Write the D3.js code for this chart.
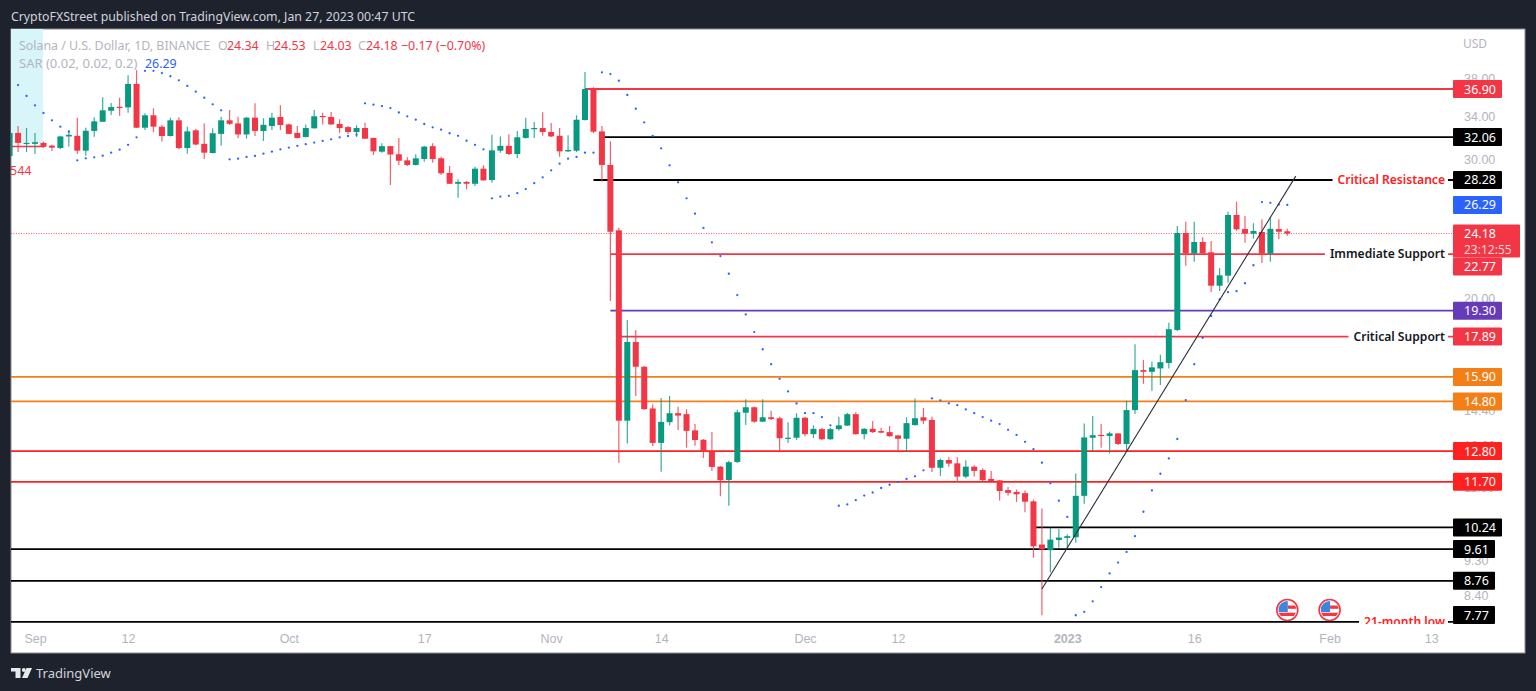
<!DOCTYPE html>
<html>
<head>
<meta charset="utf-8">
<script src="https://cdn.jsdelivr.net/npm/d3@7"></script>
<style>
  html, body { margin: 0; padding: 0; background: #1e222d; overflow: hidden; }
  svg { display: block; font-family: "Noto Sans", sans-serif; }
</style>
</head>
<body>
<div id="chart"></div>
<script>
// daily candles, Aug 29 2022 -> Jan 27 2023 (one row per month)
const firstDay = '2022-08-29';
const lastDay = '2023-01-27';

const opens = [
  30.34,32.45,31.43,
  31.43,31.52,31.27,31.05,32.12,32.18,30.81,32.64,33.53,34.63,35.03,34.97,37.45,32.95,34.17,33.05,32.16,33.67,31.05,32.70,31.43,30.60,32.36,33.67,33.37,32.31,33.93,32.64,33.11,34.00,
  33.27,32.45,32.07,32.89,34.10,34.00,33.31,33.01,32.54,32.92,31.98,30.72,31.22,30.49,29.95,29.55,30.07,31.22,30.13,28.87,27.97,28.12,27.97,29.23,28.28,30.81,31.25,30.51,31.98,32.83,32.92,
  32.54,32.18,30.75,30.81,33.70,36.90,32.60,29.55,24.41,13.99,17.61,16.38,14.50,13.11,13.93,14.30,14.26,13.60,13.23,12.78,12.23,11.76,12.40,14.32,14.55,13.95,14.13,14.09,13.27,13.31,
  14.11,13.45,13.65,13.25,13.65,13.79,14.26,13.45,13.66,13.57,13.53,13.40,13.27,13.81,14.13,14.02,12.19,12.47,12.35,11.88,12.23,12.11,11.80,11.75,11.42,11.36,11.32,11.05,9.74,9.58,9.87,
  9.93,9.95,11.23,13.31,13.42,13.38,13.48,13.07,14.43,16.22,16.14,16.30,16.56,18.24,24.22,22.82,23.59,22.89,20.76,21.38,25.53,24.50,24.17,24.29,22.80,24.50,24.34
];
const highs = [
  32.50,33.12,32.92,
  32.45,31.64,31.34,32.18,32.73,33.93,32.95,33.97,36.01,35.42,35.97,38.40,38.99,34.37,34.87,33.21,33.93,33.97,33.05,32.83,33.37,32.89,34.03,34.70,34.03,34.00,35.39,33.87,34.43,35.20,
  33.33,33.11,33.27,34.70,34.43,34.50,33.77,33.11,33.18,33.43,32.00,31.49,31.25,31.98,30.22,30.49,31.25,31.49,30.27,29.46,28.34,28.20,29.40,29.52,32.28,32.12,32.33,32.64,33.93,33.50,34.47,
  33.40,32.92,32.24,34.17,38.77,37.09,33.11,31.67,24.60,18.78,18.24,16.41,14.68,14.95,15.04,14.57,14.47,13.85,13.26,13.53,12.25,12.44,14.43,14.90,14.58,14.90,14.40,14.15,13.93,14.30,
  14.15,13.80,13.70,13.69,14.15,14.32,14.34,13.69,13.98,13.70,13.77,13.41,14.13,14.93,14.52,14.15,12.53,12.57,12.57,12.46,12.28,12.17,12.08,11.76,11.52,11.44,11.41,11.11,10.82,10.23,10.19,
  10.04,11.99,13.88,14.18,13.86,13.54,13.49,14.83,17.50,16.71,16.62,16.96,18.63,24.72,25.03,25.03,23.92,23.66,21.84,25.78,26.54,25.45,24.92,25.21,25.36,25.21,24.53
];
const lows = [
  30.20,30.69,30.69,
  30.51,31.05,30.78,30.96,31.18,30.51,30.36,32.10,33.50,34.20,34.13,34.43,32.92,32.73,32.52,31.64,32.12,30.93,30.54,31.31,30.07,30.55,31.27,33.21,31.95,31.91,32.16,31.70,32.73,32.73,
  32.33,31.93,32.02,32.87,33.27,33.22,32.47,32.36,32.07,31.88,30.42,30.63,27.87,29.55,29.46,29.50,29.83,29.74,28.70,27.95,26.85,27.52,27.78,28.20,28.06,30.63,30.42,30.13,31.93,31.98,32.18,
  32.07,30.27,30.69,30.69,33.65,32.42,28.14,19.85,12.37,13.09,15.04,14.44,12.99,12.05,13.79,13.61,12.93,13.00,12.54,12.08,11.22,10.91,12.36,13.81,13.91,13.94,14.02,12.78,13.11,13.22,
  13.37,13.30,13.22,13.23,13.58,13.77,13.43,13.25,13.50,13.49,13.35,12.80,12.78,13.79,13.86,12.04,11.91,12.23,11.69,11.82,11.88,11.69,11.71,11.08,11.24,11.03,10.70,9.37,7.92,8.98,9.65,
  9.65,9.79,10.97,12.80,12.93,12.72,13.03,12.81,14.27,15.58,15.27,15.53,16.30,18.19,22.01,22.27,22.78,20.38,20.44,20.94,24.38,23.54,23.82,22.18,22.27,23.78,24.03
];
const closes = [
  32.45,31.52,31.52,
  31.58,31.16,31.09,32.12,32.27,30.81,32.66,33.57,34.67,35.00,34.97,37.45,32.95,34.17,33.05,32.16,33.67,31.05,32.60,31.37,30.63,32.42,33.67,33.33,32.31,33.93,32.64,33.23,33.93,33.21,
  32.36,31.98,32.92,34.07,34.03,33.27,32.92,32.54,32.92,31.91,30.75,31.22,30.47,29.92,29.55,30.13,31.18,30.07,28.84,27.97,28.12,27.97,29.23,28.25,30.84,31.25,30.51,32.04,32.83,32.92,32.54,
  32.12,30.75,30.87,33.73,36.90,32.57,29.55,24.31,13.99,17.61,16.38,14.47,13.11,13.94,14.30,14.20,13.58,13.22,12.78,12.22,11.76,12.39,14.34,14.55,13.95,14.13,14.06,13.29,13.31,14.11,
  13.45,13.66,13.25,13.65,13.80,14.26,13.45,13.66,13.53,13.51,13.37,13.27,13.89,14.09,13.99,12.19,12.47,12.34,11.88,12.23,12.08,11.76,11.73,11.39,11.33,11.28,11.04,9.69,9.60,9.88,9.94,
  9.98,11.23,13.32,13.41,13.38,13.48,13.07,14.43,16.22,16.14,16.35,16.60,18.28,24.22,22.82,23.59,22.82,20.76,21.40,25.53,24.48,24.17,24.36,22.80,24.52,24.31,24.18
];
// parabolic SAR, null where no dot is plotted
const sarValues = [
  null,37.33,36.15,
  35.17,34.40,33.67,33.05,32.57,29.95,30.13,30.22,30.36,30.63,30.90,31.34,32.04,38.91,38.91,38.66,38.30,37.85,37.23,36.61,35.97,35.28,34.67,30.04,30.10,30.25,30.34,30.54,30.72,30.93,
  31.09,31.25,31.40,31.55,31.70,31.85,32.04,32.16,32.28,35.39,35.25,35.10,34.90,34.45,34.07,33.73,33.31,32.99,32.76,32.42,32.18,31.72,31.34,30.93,26.80,26.94,27.00,27.21,27.54,28.02,28.50,
  29.09,29.66,30.10,30.25,30.63,30.63,38.74,38.55,37.80,36.26,34.83,33.47,32.18,31.02,29.52,28.09,26.80,25.63,24.58,23.57,22.64,21.50,20.20,19.09,18.13,17.24,16.50,15.81,15.24,14.71,
  14.30,14.30,14.14,13.80,10.91,10.95,11.09,11.24,11.34,11.49,11.60,11.70,11.80,11.89,12.10,14.93,14.85,14.72,14.64,14.46,14.30,14.14,13.99,13.85,13.62,13.42,13.15,12.87,12.37,11.65,11.07,
  10.56,7.92,8.00,8.25,8.60,8.95,9.24,9.53,9.98,10.72,11.41,11.98,12.53,13.26,14.86,16.50,17.83,19.00,19.95,20.37,20.43,20.91,22.04,26.51,26.45,26.32,26.29
];

// drawn horizontal levels
const levelPrices = [36.90, 32.06, 28.28, 22.77, 19.30, 17.89, 15.90, 14.80, 12.80, 11.70, 10.24, 9.61, 8.76, 7.77];
const levelStarts = ['2022-11-05', '2022-11-07', '2022-11-06', '2022-11-08', '2022-11-08', '2022-11-09', null, null, null, null, '2022-12-28', null, null, null];
const levelColors = ['#f23645', '#000000', '#000000', '#f23645', '#673ab7', '#f23645', '#f57f17', '#f57f17', '#ff2020', '#ff2020', '#000000', '#000000', '#000000', '#000000'];
const noteTexts = ['Critical Resistance', 'Immediate Support', 'Critical Support', '21-month low'];
const notePrices = [28.28, 22.77, 17.89, 7.77];
const noteColors = ['#ff2020', '#131722', '#131722', '#ff2020'];

const trendDates = ['2022-12-29', '2023-01-28'];
const trendPrices = [8.55, 28.6];

const priceTicks = [38, 34, 30, 20, 14.4, 13, 11.5, 9.3, 8.4];
const timeTickDates = ['2022-09-01', '2022-09-12', '2022-10-01', '2022-10-17', '2022-11-01', '2022-11-14', '2022-12-01', '2022-12-12', '2023-01-01', '2023-01-16', '2023-02-01', '2023-02-13'];
const timeTickLabels = ['Sep', '12', 'Oct', '17', 'Nov', '14', 'Dec', '12', '2023', '16', 'Feb', '13'];
const eventDates = ['2023-01-27', '2023-02-01'];

const lastClose = 24.18;
const lastSar = 26.29;
const oldLevel = 31.2;
const oldLevelEnd = '2022-09-02';

const parseDay = d3.utcParse('%Y-%m-%d');
const days = d3.utcDay.range(parseDay(firstDay), d3.utcDay.offset(parseDay(lastDay), 1));

const width = 1536, height = 691;
const panel = {left: 11, top: 29, right: 1525, bottom: 653};
const plotRight = 1453, plotBottom = 624;

const RED = '#f23645', GREEN = '#089981', BLUE = '#2962ff', GREY = '#b2b5be';

const x = d3.scaleUtc()
  .domain([parseDay('2022-09-01'), parseDay('2023-01-27')])
  .range([35, 1287.3]);
const y = d3.scaleLog()
  .domain([36.9, 7.77])
  .range([89, 621.8]);

const svg = d3.select('#chart').append('svg')
  .attr('width', width)
  .attr('height', height);

svg.append('text')
  .attr('x', 11).attr('y', 20.5)
  .attr('fill', '#d1d4dc').attr('font-size', 12.3)
  .text('CryptoFXStreet published on TradingView.com, Jan 27, 2023 00:47 UTC');

svg.append('rect')
  .attr('x', panel.left).attr('y', panel.top)
  .attr('width', panel.right - panel.left).attr('height', panel.bottom - panel.top)
  .attr('fill', '#fff').attr('stroke', '#8a8d96');

svg.append('clipPath').attr('id', 'plot-clip').append('rect')
  .attr('x', panel.left).attr('y', panel.top)
  .attr('width', plotRight - panel.left).attr('height', plotBottom - panel.top);

const plot = svg.append('g').attr('clip-path', 'url(#plot-clip)');

// session shading in the top left corner
plot.append('rect')
  .attr('x', panel.left).attr('y', panel.top)
  .attr('width', 32).attr('height', 114)
  .attr('fill', '#d8f5fa');
plot.append('line')
  .attr('x1', panel.left).attr('x2', x(parseDay(oldLevelEnd)))
  .attr('y1', y(oldLevel)).attr('y2', y(oldLevel))
  .attr('stroke', RED).attr('stroke-width', 1.5);
plot.append('text')
  .attr('x', 10).attr('y', 175)
  .attr('fill', RED).attr('font-size', 12.5)
  .text('544');

// current price line
plot.append('line')
  .attr('x1', panel.left).attr('x2', plotRight)
  .attr('y1', y(lastClose)).attr('y2', y(lastClose))
  .attr('stroke', RED).attr('stroke-dasharray', '1,1.5').attr('opacity', 0.8);

// level lines sit under the candles
plot.selectAll('.level')
  .data(levelPrices)
  .join('line')
  .attr('class', 'level')
  .attr('x1', (d, i) => levelStarts[i] ? x(parseDay(levelStarts[i])) : panel.left)
  .attr('x2', plotRight)
  .attr('y1', d => y(d)).attr('y2', d => y(d))
  .attr('stroke', (d, i) => levelColors[i])
  .attr('stroke-width', 1.8);

const candles = plot.selectAll('.candle')
  .data(days)
  .join('g')
  .attr('class', 'candle')
  .attr('transform', d => `translate(${x(d)},0)`)
  .attr('fill', (d, i) => closes[i] >= opens[i] ? GREEN : RED)
  .attr('stroke', (d, i) => closes[i] >= opens[i] ? GREEN : RED);

candles.append('line')
  .attr('y1', (d, i) => y(highs[i]))
  .attr('y2', (d, i) => y(lows[i]))
  .attr('stroke-width', 1.2)
  .attr('stroke-opacity', 0.8);

candles.append('rect')
  .attr('x', -3)
  .attr('width', 6)
  .attr('y', (d, i) => y(Math.max(opens[i], closes[i])))
  .attr('height', (d, i) => Math.max(1.2, Math.abs(y(opens[i]) - y(closes[i]))))
  .attr('stroke', 'none');

plot.selectAll('.sar')
  .data(days.filter((d, i) => sarValues[i] !== null))
  .join('circle')
  .attr('class', 'sar')
  .attr('cx', d => x(d))
  .attr('cy', d => y(sarValues[days.indexOf(d)]))
  .attr('r', 1.15)
  .attr('fill', BLUE);

const trendLine = d3.line()
  .x(d => x(parseDay(d[0])))
  .y(d => y(d[1]));

plot.append('path')
  .attr('d', trendLine(d3.zip(trendDates, trendPrices)))
  .attr('fill', 'none')
  .attr('stroke', '#2a2e39')
  .attr('stroke-width', 1.1);

// US economic event flags
const flags = svg.selectAll('.flag')
  .data(eventDates)
  .join('g')
  .attr('class', 'flag')
  .attr('transform', d => `translate(${x(parseDay(d))},610)`);
svg.append('clipPath').attr('id', 'flag-clip').append('circle').attr('r', 9);
flags.append('circle').attr('r', 10.5).attr('fill', '#fff').attr('stroke', RED).attr('stroke-width', 1.6);
const flagInner = flags.append('g').attr('clip-path', 'url(#flag-clip)');
flagInner.append('rect').attr('x', -9).attr('y', -9).attr('width', 9.5).attr('height', 11).attr('fill', '#3d86e0');
flagInner.append('rect').attr('x', 0.5).attr('y', -4.5).attr('width', 9).attr('height', 3.3).attr('fill', RED);
flagInner.append('rect').attr('x', -9).attr('y', 2.7).attr('width', 18).attr('height', 3.3).attr('fill', RED);

// notes cut a gap out of their level line
const notes = plot.selectAll('.note')
  .data(noteTexts)
  .join('g')
  .attr('class', 'note');
const noteLabels = notes.append('text')
  .attr('x', 1445)
  .attr('y', (d, i) => y(notePrices[i]))
  .attr('dy', '0.35em')
  .attr('text-anchor', 'end')
  .attr('fill', (d, i) => noteColors[i])
  .attr('font-size', 12.1)
  .attr('font-weight', 600)
  .text(d => d);
noteLabels.each(function() {
  const box = this.getBBox();
  d3.select(this.parentNode).insert('rect', 'text')
    .attr('x', box.x - 5)
    .attr('width', box.width + 8)
    .attr('y', box.y)
    .attr('height', box.height)
    .attr('fill', '#fff');
});

// price axis
const priceAxis = d3.axisRight(y)
  .tickValues(priceTicks)
  .tickFormat(d3.format('.2f'))
  .tickSize(0)
  .tickPadding(0);
const priceG = svg.append('g')
  .attr('transform', 'translate(1464,0)')
  .call(priceAxis);
priceG.select('.domain').remove();
priceG.selectAll('text').attr('fill', GREY).attr('font-size', 12.5).attr('font-family', 'inherit');

svg.append('text')
  .attr('x', 1463).attr('y', 47.5)
  .attr('fill', GREY).attr('font-size', 12)
  .text('USD');

// price tags on the axis; tags get pushed off the countdown box and the bottom edge
const lastTagBottom = y(lastClose) + 24;
const tagY = price => {
  const py = y(price);
  if (py - 9 < lastTagBottom && py + 9 > y(lastClose) - 9) return lastTagBottom + 9;
  return Math.min(py, plotBottom - 9);
};
const tagRows = levelPrices.map((p, i) => ({price: p, color: levelColors[i]}))
  .concat([{price: lastSar, color: BLUE}]);
const tags = svg.selectAll('.tag')
  .data(tagRows)
  .join('g')
  .attr('class', 'tag')
  .attr('transform', d => `translate(1453,${tagY(d.price)})`);
tags.append('rect')
  .attr('y', -9).attr('height', 18)
  .attr('width', d => d.price < 10 ? 42 : 49)
  .attr('rx', 1)
  .attr('fill', d => d.color);
tags.append('text')
  .attr('x', 11).attr('dy', '0.36em')
  .attr('fill', '#fff').attr('font-size', 12.5)
  .text(d => d3.format('.2f')(d.price));

// last price with countdown
const lastTag = svg.append('g').attr('transform', `translate(1453,${y(lastClose)})`);
lastTag.append('rect')
  .attr('y', -9).attr('width', 67).attr('height', 33)
  .attr('rx', 1).attr('fill', RED);
lastTag.append('text')
  .attr('x', 11).attr('dy', '0.36em')
  .attr('fill', '#fff').attr('font-size', 12.5)
  .text(d3.format('.2f')(lastClose));
lastTag.append('text')
  .attr('x', 11).attr('y', 16).attr('dy', '0.36em')
  .attr('fill', '#fcd5d9').attr('font-size', 12)
  .text('23:12:55');

// time axis
const timeAxis = d3.axisBottom(x)
  .tickValues(timeTickDates.map(parseDay))
  .tickFormat((d, i) => timeTickLabels[i])
  .tickSize(0);
const timeG = svg.append('g')
  .attr('transform', `translate(0,${plotBottom + 7})`)
  .call(timeAxis);
timeG.select('.domain').remove();
timeG.selectAll('text')
  .attr('fill', GREY).attr('font-size', 12.5).attr('font-family', 'inherit')
  .attr('font-weight', d => +d === +parseDay('2023-01-01') ? 700 : 400);

// legend
const legend = svg.append('g').attr('font-size', 12.4);
const legendBits = [
  [19, 'Solana / U.S. Dollar, 1D, BINANCE', GREY],
  [218, 'O', GREY], [227, '24.34', RED],
  [266, 'H', GREY], [274, '24.53', RED],
  [313, 'L', GREY], [320, '24.03', RED],
  [358, 'C', GREY], [366, '24.18', RED],
  [401, '\u22120.17 (\u22120.70%)', RED]
];
legend.selectAll('.bit')
  .data(legendBits)
  .join('text')
  .attr('class', 'bit')
  .attr('x', d => d[0]).attr('y', 49.5)
  .attr('fill', d => d[2])
  .text(d => d[1]);
legend.append('text').attr('x', 19).attr('y', 67.5).attr('fill', GREY).attr('font-size', 13).text('SAR (0.02, 0.02, 0.2)');
legend.append('text').attr('x', 145).attr('y', 67.5).attr('fill', BLUE).text(d3.format('.2f')(lastSar));

// footer logo
const logo = svg.append('g').attr('fill', '#e6e8ee');
logo.append('path').attr('d', 'M11 668H20.5V678H15.5V671.5H11Z');
logo.append('circle').attr('cx', 23.8).attr('cy', 670).attr('r', 1.9);
logo.append('path').attr('d', 'M26.5 668H32L27.5 678H22Z');
svg.append('text')
  .attr('x', 36).attr('y', 677.5)
  .attr('fill', '#d1d4dc').attr('font-size', 13)
  .text('TradingView');
</script>
</body>
</html>
